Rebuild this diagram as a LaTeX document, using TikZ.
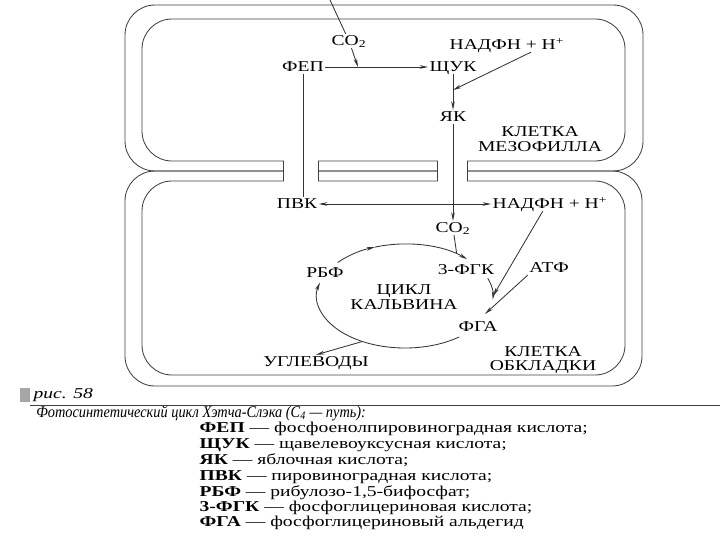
\documentclass[tikz,border=0pt]{standalone}
\usepackage{fontspec}
\setmainfont{Liberation Serif}[FakeStretch=1.3]
\newfontfamily\headserif{Liberation Serif}[FakeStretch=0.88]
\usetikzlibrary{arrows.meta}

\tikzset{
  >={Stealth[length=6pt, width=2.6pt]},
  wall/.style={draw=black!75, line width=0.6pt},
  link/.style={draw=black!80, line width=0.6pt},
  txt/.style={inner sep=1pt, font=\fontsize{10.7}{10.2}\selectfont},
  lab/.style={txt, text height=7.2pt, text depth=0.6pt},
  legend/.style={lab, anchor=west},
}

\begin{document}
\begin{tikzpicture}[x = 0.025cm, y = -0.025cm]
\useasboundingbox (0, 0) rectangle (720, 540);

\draw[wall, rounded corners = 0.75cm] (125, 5) rectangle (643, 171);
\draw[wall, rounded corners = 0.75cm] (142, 19) rectangle (625, 161);
\draw[wall, rounded corners = 0.75cm] (125, 171) rectangle (642, 386);
\draw[wall, rounded corners = 0.75cm] (142, 181) rectangle (625, 375);
\fill[white] (283.5, 158) rectangle (317.5, 184);
\fill[white] (437.5, 158) rectangle (466.5, 184);
\foreach \x in {283, 318, 437, 467}
  \draw[wall] (\x, 161) -- (\x, 181);

\node[lab] at (349, 41) (co2a)   {CO\textsubscript{2}};
\node[lab] at (303, 67) (fep)    {ФЕП};
\node[lab] at (453, 67) (shuk)   {ЩУК};
\node[lab] at (507, 45) (nadf1)  {НАДФН + Н\textsuperscript{+}};
\node[lab] at (453, 117) (yak)   {ЯК};
\node[txt, align = center] at (540, 139) (mez) {КЛЕТКА\\МЕЗОФИЛЛА};

\node[lab] at (297, 204) (pvk)   {ПВК};
\node[lab] at (550, 204) (nadf2) {НАДФН + Н\textsuperscript{+}};
\node[lab] at (453, 228) (co2b)  {CO\textsubscript{2}};
\node[lab] at (325, 273) (rbf)   {РБФ};
\node[lab] at (466, 270) (fgk)   {3-ФГК};
\node[lab] at (549, 268) (atf)   {АТФ};
\node[txt, align = center] at (404, 297) (calv) {ЦИКЛ\\КАЛЬВИНА};
\node[lab] at (478, 327) (fga)   {ФГА};
\node[lab] at (316, 362) (ugl)   {УГЛЕВОДЫ};
\node[txt, align = center] at (543, 360) (obk) {КЛЕТКА\\ОБКЛАДКИ};

\coordinate (top) at (330, 0);
\coordinate (m1) at (358, 67);
\coordinate (m2) at (453, 90);
\path (405, 296) ++(-54:88 and 52) coordinate (c2);
\path (405, 296) ++(0:88 and 52) coordinate (c5);
\path (405, 296) ++(119:88 and 52) coordinate (c4);
\coordinate (c6) at (485, 314);

\draw[link] (top) -- (co2a);
\draw[link, ->] (co2a) -- (m1);
\draw[link, ->] (fep) edge (shuk);
\draw[link, ->] (shuk) edge (yak);
\draw[link, ->] ([xshift = 0.6cm]nadf1.south) -- (m2);
\draw[link] (fep.south) -- (fep.south |- pvk.north);
\draw[link, ->] (yak) edge (co2b);
\draw[link, <->] (pvk) edge (nadf2);
\draw[link] (co2b) -- (c2);

\draw[link, ->] (405, 296) ++(-140:88 and 52) arc[start angle = -140, end angle = -110, x radius = 88, y radius = 52];
\draw[link, ->] (405, 296) ++(-110:88 and 52) arc[start angle = -110, end angle = -45, x radius = 88, y radius = 52];
\draw[link, ->] (405, 296) ++(-20:88 and 52) arc[start angle = -20, end angle = 4, x radius = 88, y radius = 52];
\draw[link, ->] (405, 296) ++(52:88 and 52) arc[start angle = 52, end angle = 195, x radius = 88, y radius = 52];
\draw[link, ->] (c4) -- (ugl.north);
\draw[link, ->] ([xshift = -0.18cm]nadf2.south) -- (c5);
\draw[link, ->] (atf.south west) -- (c6);

\fill[black!35] (20, 388) rectangle (30, 402);
\node[legend] at (32, 394) (ris) {\itshape рис. 58};
\draw[wall] (30, 405) -- (720, 405);
\node[legend, inner sep = 0pt, text depth = 0pt] at (36, 412) (head) {\headserif\fontsize{11.6}{11}\selectfont\itshape Фотосинтетический цикл Хэтча-Слэка (C\textsubscript{4} — путь):};
\node[legend] at (198, 428) (l1) {\textbf{ФЕП} — фосфоенолпировиноградная кислота;};
\node[legend] at (198, 444) (l2) {\textbf{ЩУК} — щавелевоуксусная кислота;};
\node[legend] at (198, 460) (l3) {\textbf{ЯК} — яблочная кислота;};
\node[legend] at (198, 476) (l4) {\textbf{ПВК} — пировиноградная кислота;};
\node[legend] at (198, 492) (l5) {\textbf{РБФ} — рибулозо-1,5-бифосфат;};
\node[legend] at (198, 507) (l6) {\textbf{3-ФГК} — фосфоглицериновая кислота;};
\node[legend] at (198, 522) (l7) {\textbf{ФГА} — фосфоглицериновый альдегид};
\end{tikzpicture}
\end{document}
